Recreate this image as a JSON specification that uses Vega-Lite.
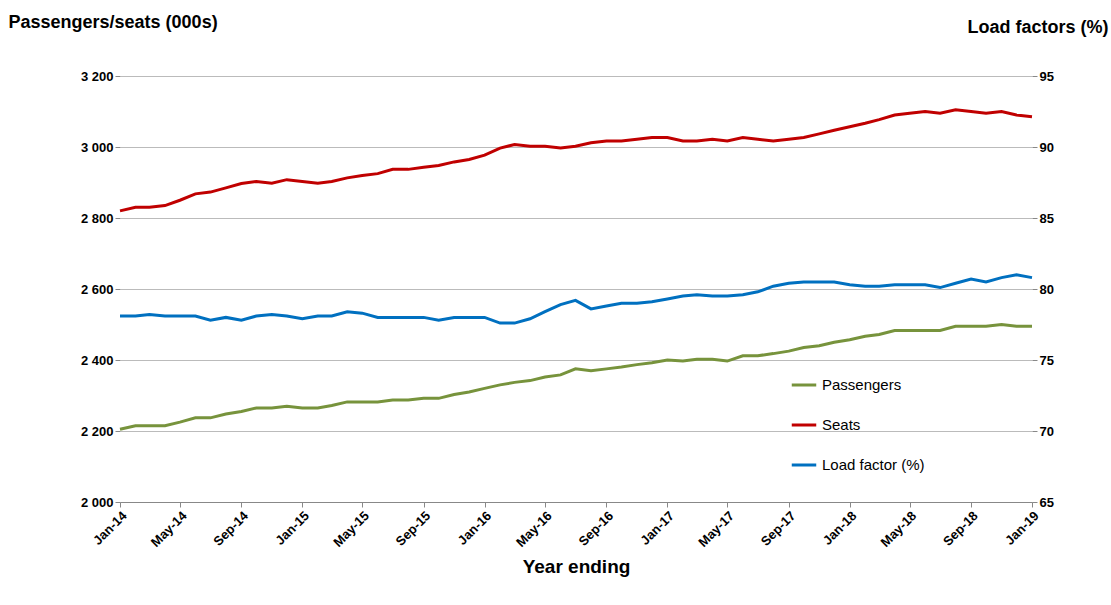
{
  "$schema": "https://vega.github.io/schema/vega-lite/v6.json",
  "width": 912,
  "height": 426,
  "autosize": {"type": "none"},
  "padding": {"left": 120, "top": 76, "right": 79, "bottom": 103},
  "background": "white",
  "config": {
    "font": "Liberation Sans",
    "view": {"stroke": null},
    "axis": {"labelFont": "Liberation Sans", "labelFontWeight": "bold", "labelFontSize": 13, "labelColor": "black", "titleColor": "black", "domainColor": "#888", "tickColor": "#888"}
  },
  "data": {"values": [
    {"date":"2014-01-01","Passengers":2205,"Seats":2820,"LF":78.1},
    {"date":"2014-02-01","Passengers":2215,"Seats":2830,"LF":78.1},
    {"date":"2014-03-01","Passengers":2215,"Seats":2830,"LF":78.2},
    {"date":"2014-04-01","Passengers":2215,"Seats":2835,"LF":78.1},
    {"date":"2014-05-01","Passengers":2225,"Seats":2850,"LF":78.1},
    {"date":"2014-06-01","Passengers":2237,"Seats":2868,"LF":78.1},
    {"date":"2014-07-01","Passengers":2237,"Seats":2873,"LF":77.8},
    {"date":"2014-08-01","Passengers":2248,"Seats":2885,"LF":78.0},
    {"date":"2014-09-01","Passengers":2255,"Seats":2897,"LF":77.8},
    {"date":"2014-10-01","Passengers":2265,"Seats":2903,"LF":78.1},
    {"date":"2014-11-01","Passengers":2265,"Seats":2898,"LF":78.2},
    {"date":"2014-12-01","Passengers":2270,"Seats":2908,"LF":78.1},
    {"date":"2015-01-01","Passengers":2265,"Seats":2903,"LF":77.9},
    {"date":"2015-02-01","Passengers":2265,"Seats":2898,"LF":78.1},
    {"date":"2015-03-01","Passengers":2272,"Seats":2903,"LF":78.1},
    {"date":"2015-04-01","Passengers":2282,"Seats":2913,"LF":78.4},
    {"date":"2015-05-01","Passengers":2282,"Seats":2920,"LF":78.3},
    {"date":"2015-06-01","Passengers":2282,"Seats":2925,"LF":78.0},
    {"date":"2015-07-01","Passengers":2287,"Seats":2937,"LF":78.0},
    {"date":"2015-08-01","Passengers":2287,"Seats":2937,"LF":78.0},
    {"date":"2015-09-01","Passengers":2292,"Seats":2943,"LF":78.0},
    {"date":"2015-10-01","Passengers":2292,"Seats":2948,"LF":77.8},
    {"date":"2015-11-01","Passengers":2303,"Seats":2958,"LF":78.0},
    {"date":"2015-12-01","Passengers":2310,"Seats":2965,"LF":78.0},
    {"date":"2016-01-01","Passengers":2320,"Seats":2977,"LF":78.0},
    {"date":"2016-02-01","Passengers":2330,"Seats":2997,"LF":77.6},
    {"date":"2016-03-01","Passengers":2337,"Seats":3007,"LF":77.6},
    {"date":"2016-04-01","Passengers":2342,"Seats":3002,"LF":77.9},
    {"date":"2016-05-01","Passengers":2352,"Seats":3002,"LF":78.4},
    {"date":"2016-06-01","Passengers":2358,"Seats":2997,"LF":78.9},
    {"date":"2016-07-01","Passengers":2375,"Seats":3002,"LF":79.2},
    {"date":"2016-08-01","Passengers":2370,"Seats":3012,"LF":78.6},
    {"date":"2016-09-01","Passengers":2375,"Seats":3017,"LF":78.8},
    {"date":"2016-10-01","Passengers":2380,"Seats":3017,"LF":79.0},
    {"date":"2016-11-01","Passengers":2387,"Seats":3022,"LF":79.0},
    {"date":"2016-12-01","Passengers":2392,"Seats":3027,"LF":79.1},
    {"date":"2017-01-01","Passengers":2400,"Seats":3027,"LF":79.3},
    {"date":"2017-02-01","Passengers":2397,"Seats":3017,"LF":79.5},
    {"date":"2017-03-01","Passengers":2402,"Seats":3017,"LF":79.6},
    {"date":"2017-04-01","Passengers":2402,"Seats":3022,"LF":79.5},
    {"date":"2017-05-01","Passengers":2397,"Seats":3017,"LF":79.5},
    {"date":"2017-06-01","Passengers":2412,"Seats":3027,"LF":79.6},
    {"date":"2017-07-01","Passengers":2412,"Seats":3022,"LF":79.8},
    {"date":"2017-08-01","Passengers":2418,"Seats":3017,"LF":80.2},
    {"date":"2017-09-01","Passengers":2425,"Seats":3022,"LF":80.4},
    {"date":"2017-10-01","Passengers":2435,"Seats":3027,"LF":80.5},
    {"date":"2017-11-01","Passengers":2440,"Seats":3037,"LF":80.5},
    {"date":"2017-12-01","Passengers":2450,"Seats":3047,"LF":80.5},
    {"date":"2018-01-01","Passengers":2457,"Seats":3057,"LF":80.3},
    {"date":"2018-02-01","Passengers":2467,"Seats":3067,"LF":80.2},
    {"date":"2018-03-01","Passengers":2472,"Seats":3077,"LF":80.2},
    {"date":"2018-04-01","Passengers":2483,"Seats":3090,"LF":80.3},
    {"date":"2018-05-01","Passengers":2483,"Seats":3095,"LF":80.3},
    {"date":"2018-06-01","Passengers":2483,"Seats":3100,"LF":80.3},
    {"date":"2018-07-01","Passengers":2483,"Seats":3095,"LF":80.1},
    {"date":"2018-08-01","Passengers":2495,"Seats":3105,"LF":80.4},
    {"date":"2018-09-01","Passengers":2495,"Seats":3100,"LF":80.7},
    {"date":"2018-10-01","Passengers":2495,"Seats":3095,"LF":80.5},
    {"date":"2018-11-01","Passengers":2500,"Seats":3100,"LF":80.8},
    {"date":"2018-12-01","Passengers":2495,"Seats":3090,"LF":81.0},
    {"date":"2019-01-01","Passengers":2495,"Seats":3085,"LF":80.8}
  ]},
  "encoding": {
    "x": {
      "field": "date", "type": "temporal",
      "scale": {"type": "utc", "domain": [{"year": 2014, "month": 1, "utc": true}, {"year": 2019, "month": 1, "utc": true}]},
      "axis": {
        "labelExpr": "utcFormat(datum.value, '%b-%y')", "labelAngle": -45, "grid": false,
        "values": [
          {"year":2014,"month":1,"utc":true},{"year":2014,"month":5,"utc":true},{"year":2014,"month":9,"utc":true},
          {"year":2015,"month":1,"utc":true},{"year":2015,"month":5,"utc":true},{"year":2015,"month":9,"utc":true},
          {"year":2016,"month":1,"utc":true},{"year":2016,"month":5,"utc":true},{"year":2016,"month":9,"utc":true},
          {"year":2017,"month":1,"utc":true},{"year":2017,"month":5,"utc":true},{"year":2017,"month":9,"utc":true},
          {"year":2018,"month":1,"utc":true},{"year":2018,"month":5,"utc":true},{"year":2018,"month":9,"utc":true},
          {"year":2019,"month":1,"utc":true}
        ],
        "title": "Year ending", "titleFontSize": 19, "titleFontWeight": "bold", "titlePadding": 8
      }
    },
    "color": {
      "field": "series", "type": "nominal",
      "scale": {"domain": ["Passengers", "Seats", "Load factor (%)"], "range": ["#77933c", "#c00000", "#0070c0"]},
      "legend": {"title": null, "orient": "none", "legendX": 670, "legendY": 295, "labelFontSize": 15, "labelFont": "Liberation Sans", "symbolType": "stroke", "symbolSize": 600, "symbolStrokeWidth": 3, "rowPadding": 18, "labelColor": "black"}
    }
  },
  "layer": [
    {
      "transform": [{"fold": ["Passengers", "Seats"], "as": ["series", "v"]}],
      "mark": {"type": "line", "strokeWidth": 3},
      "encoding": {
        "y": {
          "field": "v", "type": "quantitative", "scale": {"domain": [2000, 3200]},
          "axis": {"values": [2000, 2200, 2400, 2600, 2800, 3000, 3200], "labelExpr": "replace(format(datum.value, ',d'), ',', ' ')", "gridColor": "#bbb", "domain": false,
            "title": "Passengers/seats (000s)", "titleAngle": 0, "titleX": -112, "titleY": -45, "titleAlign": "left", "titleFontSize": 18, "titleFontWeight": "bold"}
        }
      }
    },
    {
      "transform": [{"calculate": "'Load factor (%)'", "as": "series"}],
      "mark": {"type": "line", "strokeWidth": 3},
      "encoding": {
        "y": {
          "field": "LF", "type": "quantitative", "scale": {"domain": [65, 95]},
          "axis": {"orient": "right", "values": [65, 70, 75, 80, 85, 90, 95], "grid": false, "domain": false,
            "title": "Load factors (%)", "titleAngle": 0, "titleX": 76, "titleY": -40, "titleAlign": "right", "titleFontSize": 18, "titleFontWeight": "bold"}
        }
      }
    }
  ],
  "resolve": {"scale": {"y": "independent"}}
}
